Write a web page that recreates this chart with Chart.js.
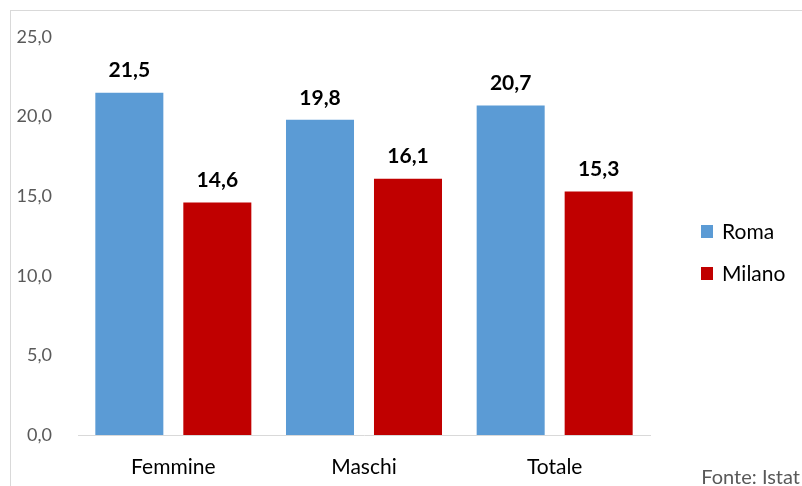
<!DOCTYPE html>
<html lang="it">
  <head>
    <meta charset="UTF-8" />
    <title>Roma vs Milano</title>
    <script src="https://cdn.jsdelivr.net/npm/chart.js@4"></script>
    <style>
      html, body { margin: 0; padding: 0; background: #fff; overflow: hidden; }
      .wrap { position: relative; width: 802px; height: 486px; }
      .frame {
        position: absolute; left: 10px; top: 10px; width: 900px; height: 600px;
        border: 1px solid #d9d9d9;
      }
      canvas { position: absolute; left: 0; top: 0; }
      .fonte {
        position: absolute; right: 2px; top: 464px;
        font-family: Lato, "Open Sans", sans-serif; font-size: 20px; color: #595959;
      }
    </style>
  </head>
  <body>
    <div class="wrap">
      <div class="frame"></div>
      <canvas id="myChart" width="802" height="486"></canvas>
      <div class="fonte">Fonte: Istat</div>
    </div>

    <script>
      // data
      const categories = ["Femmine", "Maschi", "Totale"];
      const roma = [21.5, 19.8, 20.7];
      const milano = [14.6, 16.1, 15.3];
      const seriesNames = ["Roma", "Milano"];
      const yTicks = [0, 5, 10, 15, 20, 25];

      const blue = "#5b9bd5";
      const red = "#c00000";
      const font = "Lato, 'Open Sans', sans-serif";

      function fmt(v) {
        return v.toFixed(1).replace(".", ",");
      }

      // value labels above bars
      const valueLabels = {
        id: "valueLabels",
        afterDatasetsDraw(chart) {
          const c = chart.ctx;
          c.save();
          c.font = "bold 21px " + font;
          c.fillStyle = "#000";
          c.textAlign = "center";
          c.textBaseline = "middle";
          chart.data.datasets.forEach((ds, i) => {
            chart.getDatasetMeta(i).data.forEach((bar, j) => {
              c.fillText(fmt(ds.data[j]), bar.x, bar.y - 22);
            });
          });
          c.restore();
        },
      };

      // legend on the right
      const sideLegend = {
        id: "sideLegend",
        afterDraw(chart) {
          const c = chart.ctx;
          c.save();
          c.font = "21px " + font;
          c.textBaseline = "middle";
          chart.data.datasets.forEach((ds, i) => {
            const y = 231 + i * 42;
            c.fillStyle = ds.backgroundColor;
            c.fillRect(701, y - 6, 12, 13);
            c.fillStyle = "#000";
            c.fillText(ds.label, 722, y + 1);
          });
          c.restore();
        },
      };

      const ctx = document.getElementById("myChart").getContext("2d");

      const config = {
        type: "bar",
        data: {
          labels: categories,
          datasets: [
            { label: seriesNames[0], data: roma, backgroundColor: blue },
            { label: seriesNames[1], data: milano, backgroundColor: red },
          ],
        },
        options: {
          responsive: false,
          animation: false,
          categoryPercentage: 0.923,
          barPercentage: 0.773,
          layout: { padding: { left: 0, right: 152, top: 37, bottom: 0 } },
          plugins: {
            legend: { display: false },
            tooltip: { enabled: false },
          },
          scales: {
            x: {
              grid: { display: false },
              border: { display: true, color: "#d9d9d9" },
              ticks: {
                color: "#000",
                padding: 12,
                font: { size: 21, family: font },
              },
              afterFit(scale) { scale.height = 51; },
            },
            y: {
              min: 0,
              max: 25,
              grid: { display: false },
              border: { display: false },
              afterBuildTicks(scale) {
                scale.ticks = yTicks.map((v) => ({ value: v }));
              },
              ticks: {
                color: "#595959",
                padding: 18,
                font: { size: 18, family: font },
                callback: (v) => fmt(v),
              },
              afterFit(scale) { scale.width = 78; },
            },
          },
        },
        plugins: [valueLabels, sideLegend],
      };

      const myChart = new Chart(ctx, config);
    </script>
  </body>
</html>
